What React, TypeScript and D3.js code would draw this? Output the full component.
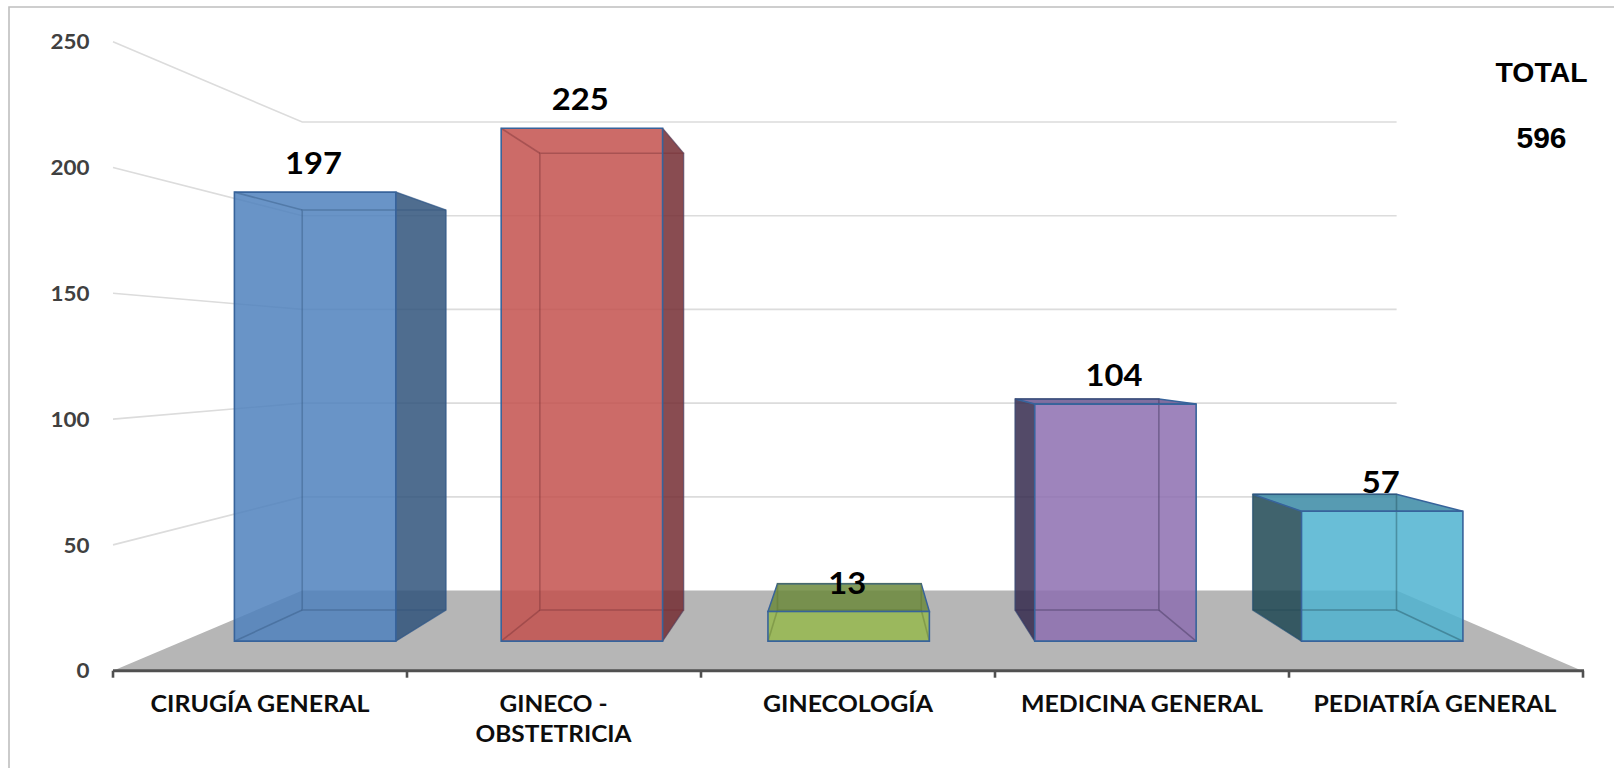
import React from "react";
import * as d3 from "d3";

const categories = [["CIRUGÍA GENERAL"], ["GINECO -", "OBSTETRICIA"], ["GINECOLOGÍA"], ["MEDICINA GENERAL"], ["PEDIATRÍA GENERAL"]];
const values = [197, 225, 13, 104, 57];
const yTicks = [0, 50, 100, 150, 200, 250];
const frontColors = ["#4f81bd", "#c3514e", "#96b84e", "#8d6fb0", "#4fb3d0"];
const topColors = ["#4f81bd", "#c0504d", "#6c8a3c", "#6a5690", "#3a8aa4"];
const sideColors = ["#30537b", "#742d32", "#5d7330", "#352a4e", "#1f4854"];
const labelWidths: number[][] = [[219], [108, 156], [170], [242], [243]];
const labelShift = [1, 0, 0, -0.5, -2];

const W = 1614, H = 768;
const VP = { x: 855, y: 356.5 };
const sFloorBack = 0.745, sBarFront = 0.906, sBarBack = 0.807;
const xFront = d3.scaleBand<number>().domain(d3.range(5)).range([112, 1584]).paddingInner(0.395).paddingOuter(0.197);
const xTicks = d3.scaleLinear().domain([0, 5]).range([113, 1583]);
const yFront = d3.scaleLinear().domain([0, 250]).range([670.7, 41.7]);
const project = (x: number, v: number, s: number): [number, number] => [VP.x + s * (x - VP.x), VP.y + s * (yFront(v) - VP.y)];
const line = d3.line();
const closed = (pts: [number, number][]) => (line(pts) as string) + "Z";

const BODY = "Lato, 'Open Sans', sans-serif";
const ARIAL = "'Liberation Sans', Arial, sans-serif";
const EDGE = "#37639b";

function Bar({ i }: { i: number }) {
  const x0 = xFront(i) as number, x1 = x0 + xFront.bandwidth(), v = values[i];
  const fbl = project(x0, 0, sBarFront), fbr = project(x1, 0, sBarFront);
  const ftl = project(x0, v, sBarFront), ftr = project(x1, v, sBarFront);
  const bbl = project(x0, 0, sBarBack), bbr = project(x1, 0, sBarBack);
  const btl = project(x0, v, sBarBack), btr = project(x1, v, sBarBack);
  const side = x1 < VP.x ? [ftr, btr, bbr, fbr] : x0 > VP.x ? [ftl, btl, bbl, fbl] : null;
  const topVisible = yFront(v) > VP.y;
  const inner = { fill: "none", stroke: sideColors[i], strokeOpacity: 0.4, strokeWidth: 1.6 };
  return (
    <g>
      {side && <path d={closed(side as [number, number][])} fill={sideColors[i]} fillOpacity={0.85} stroke={EDGE} strokeWidth={1} strokeOpacity={0.7} />}
      {topVisible && <path d={closed([ftl, ftr, btr, btl])} fill={topColors[i]} fillOpacity={0.85} stroke={EDGE} strokeWidth={1.5} />}
      <path d={closed([ftl, ftr, fbr, fbl])} fill={frontColors[i]} fillOpacity={0.85} stroke="none" />
      <path d={closed([btl, btr, bbr, bbl])} {...inner} />
      <path d={line([fbl, bbl]) as string} {...inner} />
      <path d={line([fbr, bbr]) as string} {...inner} />
      {!topVisible && <path d={line([ftl, btl]) as string} {...inner} />}
      {!topVisible && <path d={line([ftr, btr]) as string} {...inner} />}
      <path d={closed([ftl, ftr, fbr, fbl])} fill="none" stroke={EDGE} strokeWidth={1.6} />
    </g>
  );
}

export default function App() {
  return (
    <svg width={W} height={H} viewBox={`0 0 ${W} ${H}`} style={{ position: "absolute", left: 0, top: 0, background: "#fff" }}>
      <path d="M9 768V7H1614" fill="none" stroke="#bfbfbf" strokeWidth={1.6} />
      {yTicks.filter((t) => t > 0).map((t) => {
        const a = project(113, t, 1), b = project(113, t, sFloorBack), c = project(1582, t, sFloorBack);
        return <path key={t} d={line([a, b, c]) as string} fill="none" stroke="#dcdcdc" strokeWidth={1.6} />;
      })}
      <path d={closed([project(113, 0, 1), project(113, 0, sFloorBack), project(1582, 0, sFloorBack), project(1582, 0, 1)])} fill="#b6b6b6" />
      {values.map((_, i) => <Bar key={i} i={i} />)}
      <path d={`M${xTicks(0)} ${yFront(0)}H${xTicks(5) + 1}`} stroke="#505050" strokeWidth={3} fill="none" />
      {d3.range(6).map((i) => <path key={i} d={`M${xTicks(i)} ${yFront(0)}v7`} stroke="#505050" strokeWidth={2.6} fill="none" />)}
      {yTicks.map((t) => (
        <text key={t} x={89.5} y={yFront(t)} dy="0.36em" textAnchor="end" fontFamily={BODY} fontWeight={700} fontSize={21.5} fill="#404040"
          textLength={String(t).length * 13} lengthAdjust="spacingAndGlyphs">{t}</text>
      ))}
      {categories.map((lines, i) => lines.map((l, j) => (
        <text key={l} x={(xFront(i) as number) + xFront.bandwidth() / 2 + labelShift[i]} y={703.5 + j * 30.5} dy="0.36em" textAnchor="middle"
          fontFamily={BODY} fontWeight={700} fontSize={22.5} fill="#0d0d0d" textLength={labelWidths[i][j]} lengthAdjust="spacingAndGlyphs">{l}</text>
      )))}
      {values.map((v, i) => {
        const x0 = xFront(i) as number;
        const [cx, top] = project(x0 + xFront.bandwidth() / 2, v, sBarFront);
        return (
          <text key={i} x={cx - 1.5} y={top - 29} dy="0.36em" textAnchor="middle" fontFamily={BODY} fontWeight={700} fontSize={31} fill="#000"
            textLength={String(v).length * 19} lengthAdjust="spacingAndGlyphs">{v}</text>
        );
      })}
      <text x={1541.5} y={72} dy="0.36em" textAnchor="middle" fontFamily={ARIAL} fontWeight={700} fontSize={27.5} fill="#000" textLength={92} lengthAdjust="spacingAndGlyphs">TOTAL</text>
      <text x={1541.5} y={137} dy="0.36em" textAnchor="middle" fontFamily={ARIAL} fontWeight={700} fontSize={29.5} fill="#000" textLength={50} lengthAdjust="spacingAndGlyphs">596</text>
    </svg>
  );
}
